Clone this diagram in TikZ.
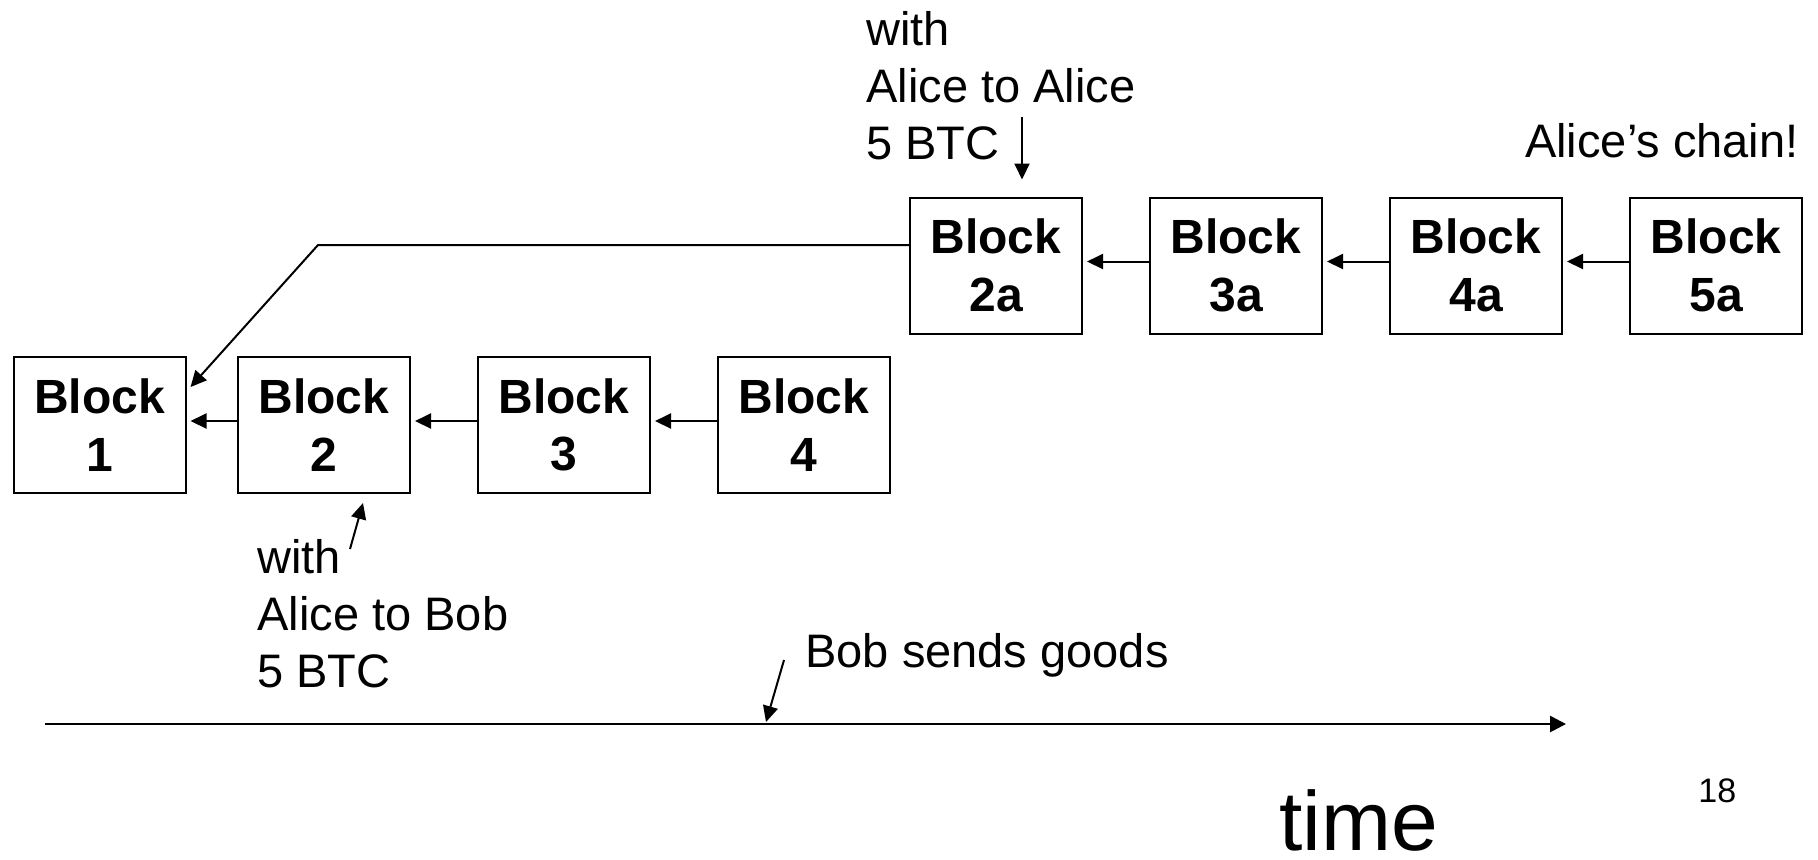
\documentclass[tikz,border=0pt]{standalone}
\usepackage{fontspec}
\setmainfont{Liberation Sans}
\usetikzlibrary{arrows.meta}
\tikzset{
  blockbox/.style={draw=black,line width=1pt,minimum width=86pt,minimum height=68pt,inner sep=0pt,align=center,font=\bfseries\fontsize{24}{28.85}\selectfont},
  link/.style={-{Triangle[length=8pt,width=7.5pt]},line width=1pt},
  timeline/.style={-{Triangle[length=8pt,width=8pt]},line width=1.3pt},
  note/.style={inner sep=0pt,align=left,font=\fontsize{23.5}{28.5}\selectfont},
}

\begin{document}
\begin{tikzpicture}[x=0.5pt,y=-0.5pt]
\useasboundingbox (0,0) rectangle (1818,859);
% honest chain
\node[blockbox] (b1) at (99.5,425) {Block\\1};
\node[blockbox] (b2) at (324,425) {Block\\2};
\node[blockbox] (b3) at (564,425) {Block\\3};
\node[blockbox] (b4) at (804,425) {Block\\4};
% Alice's fork
\node[blockbox] (b2a) at (996,265.5) {Block\\2a};
\node[blockbox] (b3a) at (1236,265.5) {Block\\3a};
\node[blockbox] (b4a) at (1476,265.5) {Block\\4a};
\node[blockbox] (b5a) at (1716,265.5) {Block\\5a};
\draw[link,shorten >=2pt] ([yshift=2pt]b2.west) -- ([yshift=2pt]b1.east);
\draw[link,shorten >=2pt] ([yshift=2pt]b3.west) -- ([yshift=2pt]b2.east);
\draw[link,shorten >=2pt] ([yshift=2pt]b4.west) -- ([yshift=2pt]b3.east);
\draw[link,shorten >=2pt] ([yshift=2pt]b3a.west) -- ([yshift=2pt]b2a.east);
\draw[link,shorten >=2pt] ([yshift=2pt]b4a.west) -- ([yshift=2pt]b3a.east);
\draw[link,shorten >=2pt] ([yshift=2pt]b5a.west) -- ([yshift=2pt]b4a.east);
\coordinate (forkbend) at (318,245);
\draw[link] ([yshift=10.25pt]b2a.west) -- (forkbend) -- ([xshift=2pt,yshift=-15.5pt]b1.north east);
% notes
\node[note,anchor=north west] (upnote) at (866,11) {with\\Alice to Alice\\5 BTC};
\coordinate (upfrom) at (1022,117);
\draw[link] (upfrom) -- ([xshift=13pt,yshift=8.5pt]b2a.north);
\node[note,anchor=north west] (lownote) at (257,539) {with\\Alice to Bob\\5 BTC};
\coordinate (lowfrom) at (350,549);
\draw[link] (lowfrom) -- ([xshift=19.5pt,yshift=-4.5pt]b2.south);
\node[note,anchor=base east] (chain) at (1799,157) {Alice’s chain!};
% time axis
\coordinate (tstart) at (45,724);
\coordinate (tend) at (1566,724);
\draw[timeline] (tstart) -- (tend);
\node[note,anchor=base west] (goods) at (805,667) {Bob sends goods};
\coordinate (goodsfrom) at (784,660);
\coordinate (goodsat) at (766,722);
\draw[link] (goodsfrom) -- (goodsat);
\node[inner sep=0pt,anchor=base west,font=\fontsize{42}{50}\selectfont] (time) at (1279,850) {time};
\node[inner sep=0pt,anchor=base west,font=\fontsize{17}{20}\selectfont] (slideno) at (1698,802) {18};
\end{tikzpicture}
\end{document}
